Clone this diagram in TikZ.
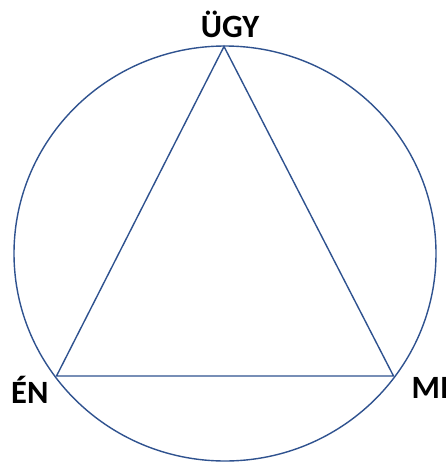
\documentclass[tikz,border=0pt]{standalone}
\usepackage{fontspec}
\setmainfont{Carlito}
\definecolor{lineblue}{HTML}{2F528F}
\begin{document}
\begin{tikzpicture}[x=1pt,y=-1pt,
  outline/.style={draw=lineblue,line width=1.4pt},
  lbl/.style={font=\bfseries\fontsize{32.5}{32.5}\selectfont,inner sep=0pt,text=black}]
\useasboundingbox (0,0) rectangle (445,463);
\fill[white] (0,0) rectangle (445,463);
\coordinate (c) at (225,253.5);
\coordinate (u) at (224,46.5);
\coordinate (e) at (56.5,376);
\coordinate (m) at (393.5,376);
\draw[outline] (c) ellipse [x radius=211pt, y radius=207.5pt];
\draw[outline,line join=miter] (u) -- (e) -- (m) -- cycle;
\node[lbl,anchor=base] (tu) at (230,37.5) {ÜGY};
\node[lbl,anchor=base west] (te) at (11,403) {ÉN};
\node[lbl,anchor=base west] (tm) at (411.5,398.5) {MI};
\end{tikzpicture}
\end{document}
